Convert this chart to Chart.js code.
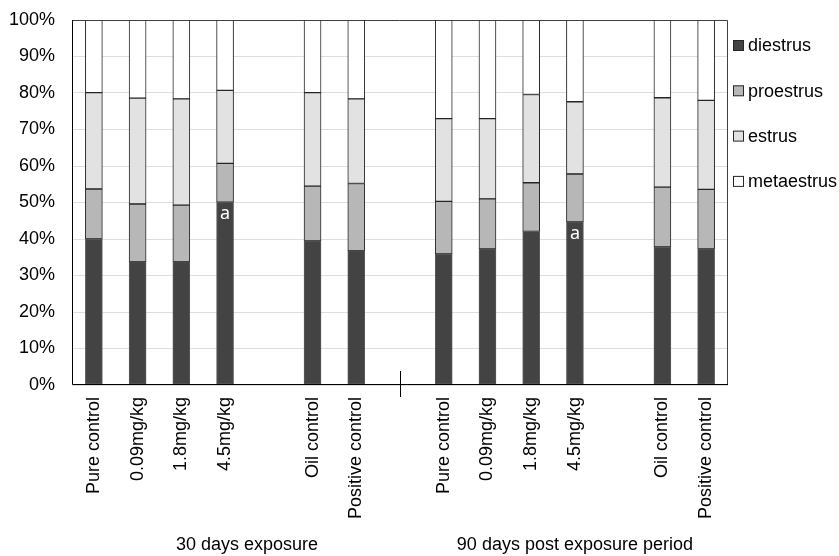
<!DOCTYPE html>
<html>
<head>
<meta charset="utf-8">
<script src="https://cdn.jsdelivr.net/npm/chart.js@4.4.1/dist/chart.umd.min.js"></script>
<style>
html, body { margin: 0; padding: 0; background: #fff; }
#wrap { width: 839px; height: 556px; }
</style>
</head>
<body>
<div id="wrap"><canvas id="chart1"></canvas></div>
<script>
// categories (empty slots are gaps between the groups)
var categories = ['Pure control', '0.09mg/kg', '1.8mg/kg', '4.5mg/kg', '', 'Oil control', 'Positive control', '',
                  'Pure control', '0.09mg/kg', '1.8mg/kg', '4.5mg/kg', '', 'Oil control', 'Positive control'];
var diestrus   = [40.0, 33.8, 33.8, 50.1, null, 39.5, 36.8, null, 35.9, 37.3, 42.1, 44.7, null, 37.8, 37.3];
var proestrus  = [13.7, 15.8, 15.5, 10.6, null, 15.0, 18.4, null, 14.4, 13.7, 13.3, 13.1, null, 16.4, 16.3];
var estrus     = [26.4, 29.0, 29.1, 20.0, null, 25.6, 23.2, null, 22.7, 22.0, 24.2, 19.8, null, 24.5, 24.4];
var metaestrus = [19.9, 21.4, 21.6, 19.3, null, 19.9, 21.6, null, 27.0, 27.0, 20.4, 22.4, null, 21.3, 22.0];
var sigLetters = ['', '', '', 'a', '', '', '', '', '', '', '', 'a', '', '', ''];
var groupNames = ['30 days exposure', '90 days post exposure period'];
var groupFrom  = [0, 8];
var groupTo    = [7, 14];
var dividerAt  = 7;

var FONT = "'Liberation Sans', Arial, sans-serif";

var extras = {
    id: 'extras',
    afterDatasetsDraw: function (chart) {
        var ctx = chart.ctx;
        var a = chart.chartArea;
        var x = chart.scales.x;
        ctx.save();
        // significance letters inside diestrus bars
        var meta = chart.getDatasetMeta(0);
        ctx.fillStyle = '#ffffff';
        ctx.font = "18px 'Noto Sans', sans-serif";
        ctx.textAlign = 'center';
        ctx.textBaseline = 'middle';
        sigLetters.forEach(function (s, i) {
            if (!s) return;
            var bar = meta.data[i];
            ctx.fillText(s, bar.x, bar.y + 12);
        });
        // plot frame
        ctx.lineWidth = 1;
        ctx.strokeStyle = '#404040';
        ctx.beginPath();
        ctx.moveTo(a.left, a.top + 0.5);
        ctx.lineTo(a.right - 0.5, a.top + 0.5);
        ctx.lineTo(a.right - 0.5, a.bottom);
        ctx.stroke();
        ctx.strokeStyle = '#000000';
        ctx.beginPath();
        ctx.moveTo(a.left + 0.5, a.top);
        ctx.lineTo(a.left + 0.5, a.bottom - 0.5);
        ctx.lineTo(a.right, a.bottom - 0.5);
        ctx.stroke();
        // divider tick between groups
        var dx = Math.round(x.getPixelForValue(dividerAt)) + 0.5;
        ctx.beginPath();
        ctx.moveTo(dx, a.bottom - 14);
        ctx.lineTo(dx, a.bottom + 12);
        ctx.stroke();
        // group labels
        ctx.fillStyle = '#000000';
        ctx.font = '18px ' + FONT;
        ctx.textBaseline = 'middle';
        groupNames.forEach(function (g, i) {
            var cx = (x.getPixelForValue(groupFrom[i]) + x.getPixelForValue(groupTo[i])) / 2;
            ctx.fillText(g, cx, 545);
        });
        // legend
        ctx.textAlign = 'left';
        chart.data.datasets.forEach(function (ds, i) {
            var cy = 45.5 + i * 45.3;
            ctx.fillStyle = ds.backgroundColor;
            ctx.fillRect(733.5, cy - 5, 10, 10);
            ctx.strokeStyle = '#262626';
            ctx.strokeRect(733.5, cy - 5, 10, 10);
            ctx.fillStyle = '#000000';
            ctx.fillText(ds.label, 748, cy + 1);
        });
        ctx.restore();
    }
};

var ctx1 = document.getElementById('chart1').getContext('2d');
var chart1 = new Chart(ctx1, {
    type: 'bar',
    data: {
        labels: categories,
        datasets: [
            { label: 'diestrus', data: diestrus, backgroundColor: '#434343', borderColor: '#5a5a5a' },
            { label: 'proestrus', data: proestrus, backgroundColor: '#b7b7b7', borderColor: '#262626' },
            { label: 'estrus', data: estrus, backgroundColor: '#e2e2e2', borderColor: '#262626' },
            { label: 'metaestrus', data: metaestrus, backgroundColor: '#ffffff', borderColor: '#262626' }
        ]
    },
    options: {
        responsive: true,
        maintainAspectRatio: false,
        animation: false,
        datasets: {
            bar: { barThickness: 17, borderWidth: 1, borderSkipped: false }
        },
        layout: { padding: { top: 20, right: 111, bottom: 0, left: 0 } },
        plugins: {
            legend: { display: false },
            tooltip: { enabled: false }
        },
        scales: {
            x: {
                stacked: true,
                grid: { display: false, drawTicks: false },
                border: { display: false },
                ticks: {
                    autoSkip: false,
                    minRotation: 90,
                    maxRotation: 90,
                    padding: 12,
                    color: '#000000',
                    font: { family: FONT, size: 18 }
                },
                afterFit: function (s) { s.height = 171; s.paddingLeft = 0; s.paddingRight = 0; }
            },
            y: {
                stacked: true,
                min: 0,
                max: 100,
                grid: { color: '#dedede', lineWidth: 1, drawTicks: false },
                border: { display: false },
                ticks: {
                    stepSize: 10,
                    padding: 17,
                    color: '#000000',
                    font: { family: FONT, size: 18 },
                    callback: function (v) { return v + '%'; }
                },
                afterFit: function (s) { s.width = 72; s.paddingTop = 0; s.paddingBottom = 0; }
            }
        }
    },
    plugins: [extras]
});
</script>
</body>
</html>
